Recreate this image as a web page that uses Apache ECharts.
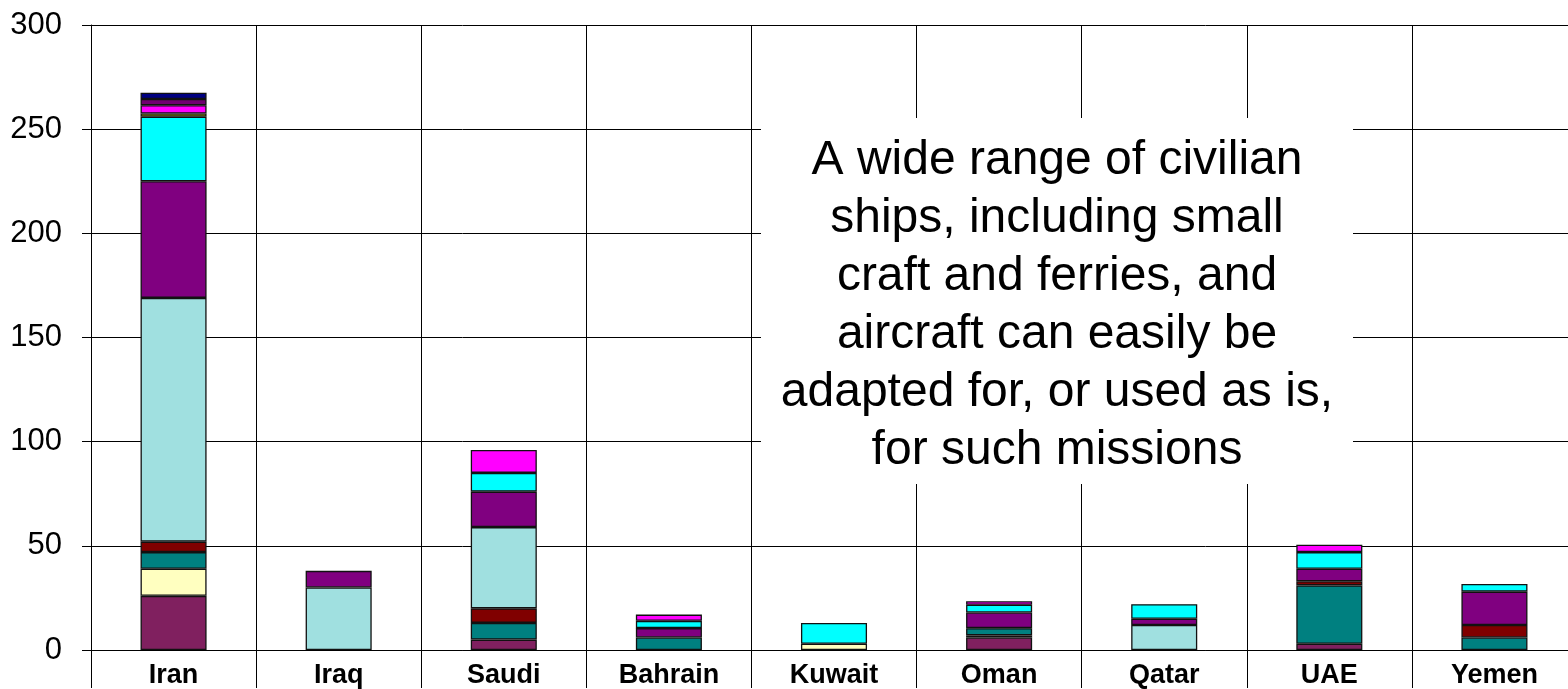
<!DOCTYPE html>
<html>
<head>
<meta charset="utf-8">
<script src="https://cdn.jsdelivr.net/npm/echarts@6/dist/echarts.min.js"></script>
<style>
html,body{margin:0;padding:0;background:#fff;overflow:hidden;width:1568px;height:689px;}
#chart{width:1577px;height:689px;}
</style>
</head>
<body>
<div id="chart"></div>
<script>
const categories = ['Iran','Iraq','Saudi','Bahrain','Kuwait','Oman','Qatar','UAE','Yemen'];
const yTicks = [0, 50, 100, 150, 200, 250, 300];

const plum       = [26, null, 5, null, null, 6, null, 3, null];
const lightYellow= [13, null, null, null, 3, 1, null, null, null];
const teal       = [8, null, 8, 6, null, 3.5, null, 28, 6];
const darkRed    = [5, null, 7, null, null, null, null, 2, 6];
const lightCyan  = [117, 30, 39, null, null, null, 12, null, null];
const purple     = [56, 8, 17, 4.5, null, 7.5, 3, 6, 16];
const cyan       = [31, null, 9, 3.5, 10, 3.7, 7, 8, 3.7];
const yellow     = [1.5, null, null, null, null, null, null, null, null];
const magenta    = [4, null, 11, 3, null, 1.7, null, 3.5, null];
const purple2    = [3, null, null, null, null, null, null, null, null];
const navy       = [3, null, null, null, null, null, null, null, null];

const annotation = ['A wide range of civilian','ships, including small','craft and ferries, and','aircraft can easily be','adapted for, or used as is,','for such missions'];

const seriesDefs = [
  ['plum', plum, '#80205F'],
  ['lightYellow', lightYellow, '#FFFFC0'],
  ['teal', teal, '#008080'],
  ['darkRed', darkRed, '#800000'],
  ['lightCyan', lightCyan, '#A0E0E0'],
  ['purple', purple, '#800080'],
  ['cyan', cyan, '#00FFFF'],
  ['yellow', yellow, '#FFFF00'],
  ['magenta', magenta, '#FF00FF'],
  ['purple2', purple2, '#700070'],
  ['navy', navy, '#000080']
];

const chart = echarts.init(document.getElementById('chart'));
chart.setOption({
  animation: false,
  backgroundColor: '#fff',
  grid: {left: 91, right: 0, top: 25, bottom: 38, containLabel: false},
  xAxis: {
    type: 'category',
    data: categories,
    boundaryGap: true,
    axisLine: {show: true, lineStyle: {color: '#000', width: 1}},
    axisTick: {show: true, length: 38, lineStyle: {color: '#000', width: 1}},
    axisLabel: {color: '#000', fontFamily: 'Liberation Sans, Arial, sans-serif', fontWeight: 'bold', fontSize: 27, margin: 12},
    splitLine: {show: true, lineStyle: {color: '#000', width: 1}}
  },
  yAxis: {
    type: 'value',
    min: yTicks[0],
    max: yTicks[yTicks.length - 1],
    interval: 50,
    axisLine: {show: true, lineStyle: {color: '#000', width: 1}},
    axisTick: {show: true, inside: false, length: 9, lineStyle: {color: '#000', width: 1}},
    axisLabel: {color: '#000', fontFamily: 'Liberation Sans, Arial, sans-serif', fontSize: 31, margin: 29},
    splitLine: {show: true, lineStyle: {color: '#000', width: 1}}
  },
  series: seriesDefs.map(([name, data, color]) => ({
    name: name,
    type: 'bar',
    stack: 'total',
    data: data,
    barWidth: '40%',
    itemStyle: {color: color, borderColor: '#111', borderWidth: 1.3}
  })),
  graphic: [
    {
      type: 'rect',
      shape: {x: 761, y: 118, width: 592, height: 366},
      style: {fill: '#fff'},
      z: 100
    },
    {
      type: 'text',
      x: 1057,
      y: 306,
      z: 101,
      style: {
        text: annotation.join('\n'),
        fill: '#000',
        font: '48px "Liberation Sans", Arial, sans-serif',
        lineHeight: 58,
        align: 'center',
        verticalAlign: 'middle'
      }
    }
  ]
});
</script>
</body>
</html>
